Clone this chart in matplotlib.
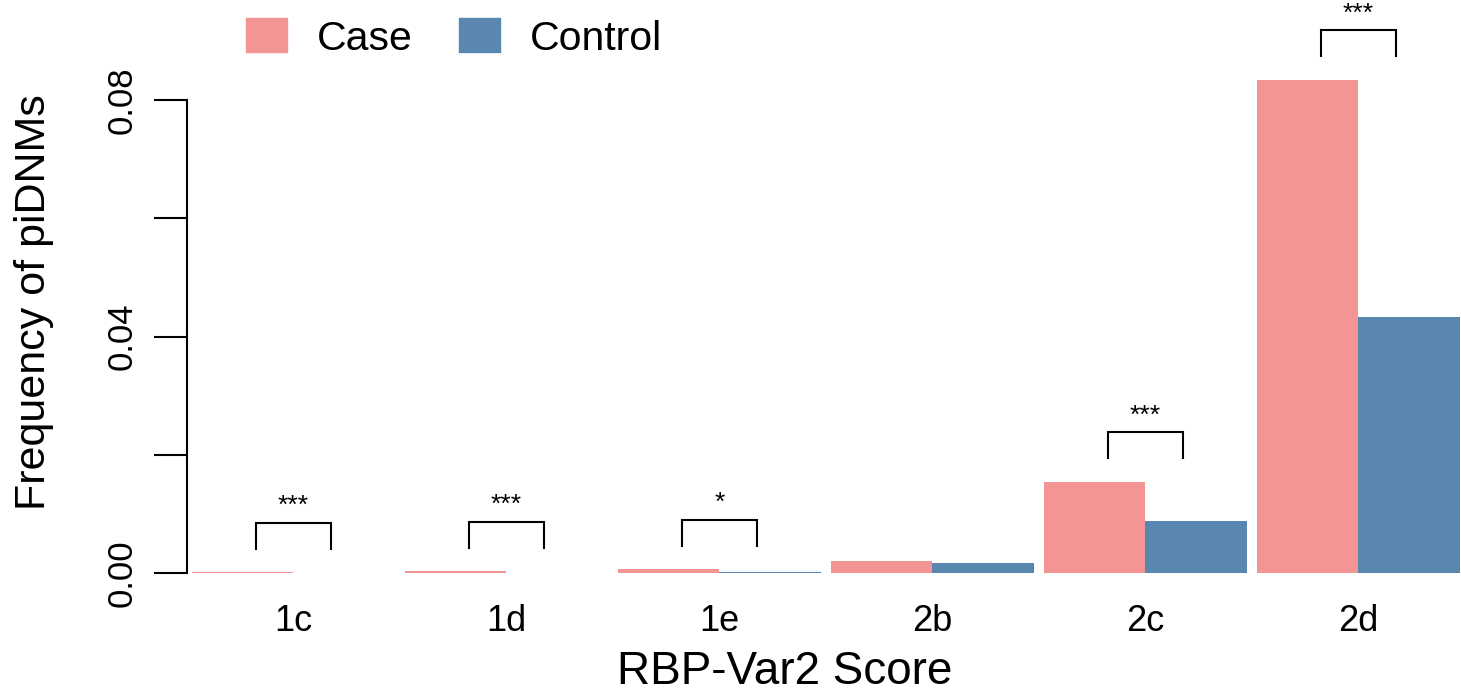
import matplotlib
matplotlib.use('Agg')
from matplotlib import pyplot as plt
from matplotlib.patches import Patch
import numpy as np

plt.rcParams['font.family'] = ['Liberation Sans', 'DejaVu Sans']

scores = ['1c', '1d', '1e', '2b', '2c', '2d']
case_freq = [0.0001, 0.0003, 0.0006, 0.0021, 0.0154, 0.0834]
control_freq = [0.00003, 0.00005, 0.0002, 0.0017, 0.0088, 0.0433]
signif = ['***', '***', '*', '', '***', '***']
y_ticks = [0.00, 0.02, 0.04, 0.06, 0.08]
y_tick_labels = ['0.00', '', '0.04', '', '0.08']

case_color = '#F49595'
control_color = '#5A87B0'

W, H = 1461, 694
fig = plt.figure(figsize=(W / 100, H / 100), dpi=100)
ax = fig.add_axes([187 / W, 1 - 573 / H, 1 - 187 / W, 573 / H])

# R barplot(beside=TRUE, space=c(0, 0.1)) style positions
gap = 0.1
period = 2 + gap
starts = gap + period * np.arange(len(scores))
case_x = starts + 0.5
ctrl_x = starts + 1.5
centers = starts + 1.0

ax.bar(case_x, case_freq, width=1.0, color=case_color, edgecolor='none')
ax.bar(ctrl_x, control_freq, width=1.0, color=control_color, edgecolor='none')

# significance brackets
for i, s in enumerate(signif):
    if not s:
        continue
    base = max(case_freq[i], control_freq[i]) + 0.004
    top = base + 0.0044
    half = 0.37
    ax.plot([centers[i] - half, centers[i] - half, centers[i] + half, centers[i] + half],
            [base, top, top, base], color='black', lw=1.5, clip_on=False,
            solid_joinstyle='miter')
    ax.text(centers[i], top + 0.0016, s, ha='center', va='baseline', fontsize=19)

ax.set_xlim(0.1 - 5 / 101.4, 0.1 + (W - 192) / 101.4)
ax.set_ylim(0, 573 / 5912.5)

for side in ['top', 'right', 'bottom']:
    ax.spines[side].set_visible(False)
ax.spines['left'].set_bounds(0, 0.08)
ax.spines['left'].set_linewidth(1.5)

ax.set_yticks(y_ticks)
ax.set_yticklabels(y_tick_labels, rotation=90, va='center', fontsize=25)
ax.tick_params(axis='y', length=24, width=1.5, pad=11)

ax.set_xticks(centers)
ax.set_xticklabels(scores, fontsize=26)
ax.tick_params(axis='x', length=0, pad=22)

fig.text(785 / W, 1 - 684 / H, 'RBP-Var2 Score', ha='center', va='baseline', fontsize=33)
fig.text(34 / W, 1 - 302 / H, 'Frequency of piDNMs', ha='center', va='center',
         rotation=90, fontsize=31)

handles = [Patch(color=case_color), Patch(color=control_color)]
fig.legend(handles, ['Case', 'Control'], loc='center left',
           bbox_to_anchor=(246 / W, 1 - 38 / H), ncol=2, frameon=False,
           fontsize=29.5, handlelength=1.0, handleheight=0.9, handletextpad=0.74,
           columnspacing=1.12, borderpad=0, borderaxespad=0)

plt.savefig('out.png', dpi=100)
plt.close()
